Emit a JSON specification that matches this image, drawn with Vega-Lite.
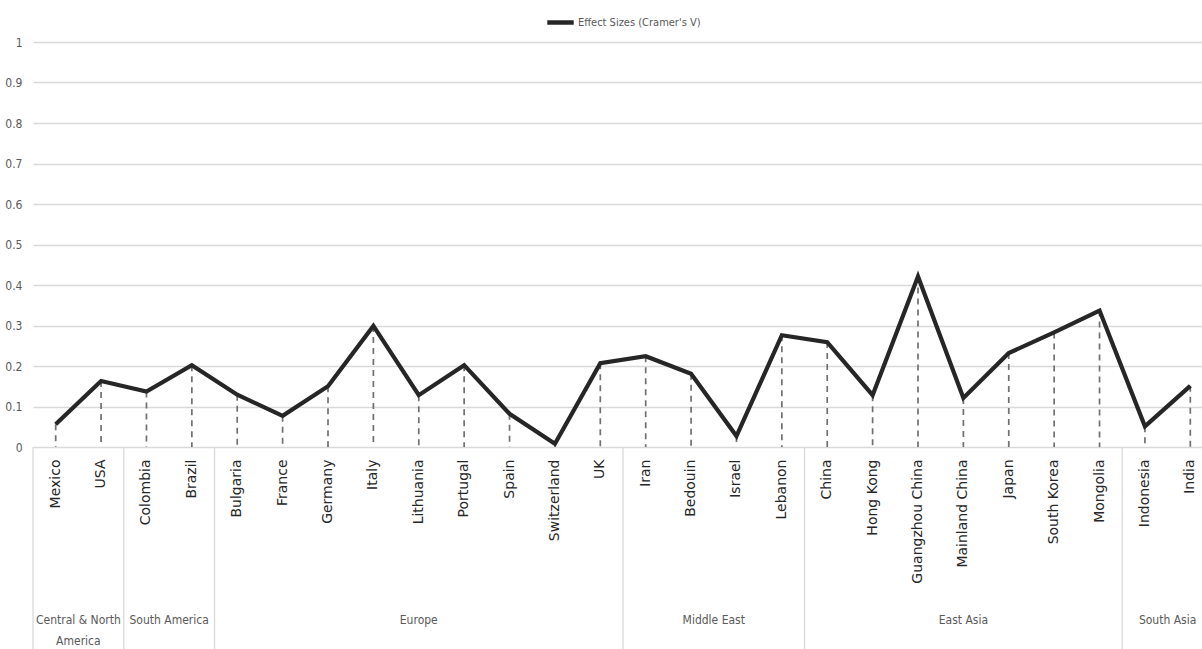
{
  "$schema": "https://vega.github.io/schema/vega-lite/v6.json",
  "width": 1169,
  "height": 405,
  "autosize": {"type": "none"},
  "padding": {"left": 33, "top": 42, "right": 0, "bottom": 202},
  "background": "white",
  "config": {"view": {"stroke": null}},
  "datasets": {
    "effects": [
      {"country": "Mexico", "region": "Central & North America", "v": 0.056},
      {"country": "USA", "region": "Central & North America", "v": 0.163},
      {"country": "Colombia", "region": "South America", "v": 0.137},
      {"country": "Brazil", "region": "South America", "v": 0.202},
      {"country": "Bulgaria", "region": "Europe", "v": 0.129},
      {"country": "France", "region": "Europe", "v": 0.077},
      {"country": "Germany", "region": "Europe", "v": 0.15},
      {"country": "Italy", "region": "Europe", "v": 0.299},
      {"country": "Lithuania", "region": "Europe", "v": 0.128},
      {"country": "Portugal", "region": "Europe", "v": 0.202},
      {"country": "Spain", "region": "Europe", "v": 0.082},
      {"country": "Switzerland", "region": "Europe", "v": 0.008},
      {"country": "UK", "region": "Europe", "v": 0.207},
      {"country": "Iran", "region": "Middle East", "v": 0.224},
      {"country": "Bedouin", "region": "Middle East", "v": 0.181},
      {"country": "Israel", "region": "Middle East", "v": 0.027},
      {"country": "Lebanon", "region": "Middle East", "v": 0.276},
      {"country": "China", "region": "East Asia", "v": 0.259},
      {"country": "Hong Kong", "region": "East Asia", "v": 0.128},
      {"country": "Guangzhou China", "region": "East Asia", "v": 0.421},
      {"country": "Mainland China", "region": "East Asia", "v": 0.121},
      {"country": "Japan", "region": "East Asia", "v": 0.232},
      {"country": "South Korea", "region": "East Asia", "v": 0.283},
      {"country": "Mongolia", "region": "East Asia", "v": 0.337},
      {"country": "Indonesia", "region": "South Asia", "v": 0.051},
      {"country": "India", "region": "South Asia", "v": 0.151}
    ],
    "regions": [
      {"region": "Central & North America", "label": "Central & North\nAmerica", "first": "Mexico", "mid": "USA", "even": true},
      {"region": "South America", "label": "South America", "first": "Colombia", "mid": "Brazil", "even": true},
      {"region": "Europe", "label": "Europe", "first": "Bulgaria", "mid": "Lithuania", "even": false},
      {"region": "Middle East", "label": "Middle East", "first": "Iran", "mid": "Israel", "even": true},
      {"region": "East Asia", "label": "East Asia", "first": "China", "mid": "Mainland China", "even": false},
      {"region": "South Asia", "label": "South Asia", "first": "Indonesia", "mid": "India", "even": true}
    ]
  },
  "layer": [
    {
      "data": {"name": "effects"},
      "mark": {"type": "rule", "color": "#707070", "strokeWidth": 1.7, "strokeDash": [6, 5]},
      "encoding": {
        "x": {"field": "country", "type": "nominal", "sort": null,
          "scale": {"domain": ["Mexico","USA","Colombia","Brazil","Bulgaria","France","Germany","Italy","Lithuania","Portugal","Spain","Switzerland","UK","Iran","Bedouin","Israel","Lebanon","China","Hong Kong","Guangzhou China","Mainland China","Japan","South Korea","Mongolia","Indonesia","India"], "range": [0, 1180], "paddingInner": 0, "paddingOuter": 0},
          "axis": {"title": null, "labelAngle": -90, "ticks": false, "domain": false, "grid": false, "labelPadding": 12, "labelFont": "DejaVu Sans", "labelFontSize": 14, "labelColor": "#262626", "labelOverlap": false}},
        "y": {"field": "v", "type": "quantitative", "scale": {"domain": [0, 1], "nice": false},
          "axis": {"title": null, "values": [0, 0.1, 0.2, 0.3, 0.4, 0.5, 0.6, 0.7, 0.8, 0.9, 1], "format": "~g", "grid": true, "gridColor": "#d9d9d9", "gridWidth": 1.3, "domain": false, "ticks": false, "labelPadding": 11, "labelFont": "DejaVu Sans Condensed", "labelFontSize": 12, "labelColor": "#595959"}},
        "y2": {"datum": 0}
      }
    },
    {
      "data": {"name": "effects"},
      "mark": {"type": "line", "strokeWidth": 4.2, "strokeJoin": "miter"},
      "encoding": {
        "x": {"field": "country", "type": "nominal", "sort": null},
        "y": {"field": "v", "type": "quantitative", "scale": {"domain": [0, 1], "nice": false}},
        "color": {"datum": "Effect Sizes (Cramer's V)", "type": "nominal",
          "scale": {"range": ["#262626"]},
          "legend": {"title": null, "orient": "none", "legendX": 512, "legendY": -35, "symbolType": "stroke", "symbolStrokeWidth": 4.5, "symbolSize": 700, "labelFont": "DejaVu Sans Condensed", "labelFontSize": 11, "labelColor": "#595959", "labelOffset": 2}}
      }
    },
    {
      "data": {"name": "regions"},
      "mark": {"type": "rule", "color": "#d9d9d9", "strokeWidth": 1.3},
      "encoding": {
        "x": {"field": "first", "type": "nominal", "bandPosition": 0},
        "y": {"datum": 0, "type": "quantitative", "scale": {"domain": [0, 1], "nice": false}},
        "y2": {"datum": -0.51}
      }
    },
    {
      "data": {"name": "regions"},
      "transform": [{"filter": "datum.even"}],
      "mark": {"type": "text", "baseline": "top", "align": "center", "lineBreak": "\n", "lineHeight": 21, "font": "DejaVu Sans Condensed", "fontSize": 12, "color": "#595959"},
      "encoding": {
        "x": {"field": "mid", "type": "nominal", "bandPosition": 0},
        "y": {"datum": -0.415, "type": "quantitative", "scale": {"domain": [0, 1], "nice": false}},
        "text": {"field": "label"}
      }
    },
    {
      "data": {"name": "regions"},
      "transform": [{"filter": "!datum.even"}],
      "mark": {"type": "text", "baseline": "top", "align": "center", "lineBreak": "\n", "lineHeight": 21, "font": "DejaVu Sans Condensed", "fontSize": 12, "color": "#595959"},
      "encoding": {
        "x": {"field": "mid", "type": "nominal", "bandPosition": 0.5},
        "y": {"datum": -0.415, "type": "quantitative", "scale": {"domain": [0, 1], "nice": false}},
        "text": {"field": "label"}
      }
    }
  ]
}
